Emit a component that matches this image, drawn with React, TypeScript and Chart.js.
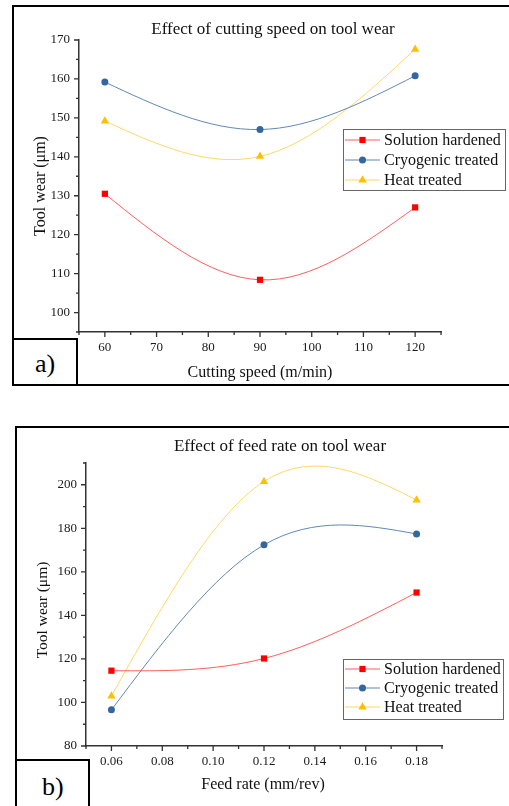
import React, { useEffect, useRef } from "react";
import { Chart, registerables } from "chart.js";

Chart.register(...registerables);

const FONT = '"Liberation Serif", "Times New Roman", serif';

// ---------- Panel a: cutting speed ----------
const speedCategories = [60, 90, 120];
const speedSolution = [130.5, 108.4, 127.0];
const speedCryogenic = [159.2, 147.0, 160.8];
const speedHeat = [149.2, 140.1, 167.6];
const speedXTicks = [60, 70, 80, 90, 100, 110, 120];
const speedYTicks = [100, 110, 120, 130, 140, 150, 160, 170];

// ---------- Panel b: feed rate ----------
const feedCategories = [0.06, 0.12, 0.18];
const feedSolution = [114.6, 120.2, 150.5];
const feedCryogenic = [96.6, 172.4, 177.4];
const feedHeat = [102.9, 201.5, 193.0];
const feedXTicks = [0.06, 0.08, 0.1, 0.12, 0.14, 0.16, 0.18];
const feedYTicks = [80, 100, 120, 140, 160, 180, 200];

const seriesNames = ["Solution hardened", "Cryogenic treated", "Heat treated"];

const seriesStyles = [
  { line: "rgba(255,40,40,0.75)", point: "#ff0000", pointStyle: "rect", radius: 4.4 },
  { line: "#5f88b8", point: "#3467a1", pointStyle: "circle", radius: 3.5 },
  { line: "#ffd865", point: "#ffc000", pointStyle: "triangle", radius: 4.8 },
];

type Decor = {
  title: string;
  titleX: number;
  titleY: number;
  titleSize: number;
  xTitle: string;
  xTitleX: number;
  xTitleY: number;
  xTitleSize: number;
  yTitle: string;
  yTitleX: number;
  yTitleY: number;
  yTitleSize: number;
  xMinorStep: number;
  yMinorStep: number;
  legend: { x: number; y: number; w: number; h: number; firstRow: number; rowGap: number; size: number };
};

// Natural cubic spline (as used by the original plotting program) expressed
// as Bezier control points on Chart.js's own point elements.
function applyNaturalSpline(points: any[]) {
  const n = points.length;
  if (n < 3) return;
  const X = points.map((p) => p.x);
  const Y = points.map((p) => p.y);
  const h: number[] = [];
  for (let i = 0; i < n - 1; i++) h.push(X[i + 1] - X[i]);
  const M = new Array(n).fill(0);
  const a: number[] = [], b: number[] = [], c: number[] = [], d: number[] = [];
  for (let i = 1; i < n - 1; i++) {
    a.push(h[i - 1]);
    b.push(2 * (h[i - 1] + h[i]));
    c.push(h[i]);
    d.push(6 * ((Y[i + 1] - Y[i]) / h[i] - (Y[i] - Y[i - 1]) / h[i - 1]));
  }
  const m = b.length;
  for (let i = 1; i < m; i++) {
    const w = a[i] / b[i - 1];
    b[i] -= w * c[i - 1];
    d[i] -= w * d[i - 1];
  }
  const sol = new Array(m).fill(0);
  for (let i = m - 1; i >= 0; i--) sol[i] = (d[i] - (i < m - 1 ? c[i] * sol[i + 1] : 0)) / b[i];
  for (let i = 0; i < m; i++) M[i + 1] = sol[i];
  points[0].cp1x = X[0];
  points[0].cp1y = Y[0];
  points[n - 1].cp2x = X[n - 1];
  points[n - 1].cp2y = Y[n - 1];
  for (let i = 0; i < n - 1; i++) {
    const s = (Y[i + 1] - Y[i]) / h[i];
    const d0 = s - (h[i] * (2 * M[i] + M[i + 1])) / 6;
    const d1 = s + (h[i] * (M[i] + 2 * M[i + 1])) / 6;
    points[i].cp2x = X[i] + h[i] / 3;
    points[i].cp2y = Y[i] + (d0 * h[i]) / 3;
    points[i + 1].cp1x = X[i + 1] - h[i] / 3;
    points[i + 1].cp1y = Y[i + 1] - (d1 * h[i]) / 3;
  }
}

const splinePlugin = {
  id: "naturalSpline",
  beforeDatasetDraw(chart: any, args: any) {
    const meta = args.meta;
    const line = meta.dataset;
    if (!line) return;
    if (typeof line.updateControlPoints === "function") line.updateControlPoints(chart.chartArea, "x");
    applyNaturalSpline(meta.data);
    line._path = undefined;
  },
};

function drawMarker(ctx: CanvasRenderingContext2D, style: string, x: number, y: number, r: number, color: string) {
  ctx.save();
  ctx.fillStyle = color;
  ctx.beginPath();
  if (style === "rect") {
    const s = r / Math.SQRT2;
    ctx.rect(x - s, y - s, 2 * s, 2 * s);
  } else if (style === "circle") {
    ctx.arc(x, y, r, 0, Math.PI * 2);
  } else {
    const a = (Math.PI * 2) / 3;
    ctx.moveTo(x, y - r);
    ctx.lineTo(x + Math.sin(a) * r, y - Math.cos(a) * r);
    ctx.lineTo(x - Math.sin(a) * r, y - Math.cos(a) * r);
    ctx.closePath();
  }
  ctx.fill();
  ctx.restore();
}

const decorPlugin = {
  id: "decor",
  afterDraw(chart: any, _args: any, opts: Decor) {
    const ctx: CanvasRenderingContext2D = chart.ctx;
    const xs = chart.scales.x;
    const ys = chart.scales.y;
    ctx.save();
    // tick marks (major + minor)
    ctx.strokeStyle = "#333";
    ctx.lineWidth = 1.3;
    ctx.beginPath();
    const xMajor = xs.ticks.map((t: any) => t.value);
    const yMajor = ys.ticks.map((t: any) => t.value);
    const isMajor = (arr: number[], v: number) => arr.some((m) => Math.abs(m - v) < 1e-9);
    for (let i = 0; ; i++) {
      const v = xs.min + i * opts.xMinorStep;
      if (v > xs.max + 1e-9) break;
      const p = xs.getPixelForValue(v);
      const len = isMajor(xMajor, v) ? 5 : 3;
      ctx.moveTo(p, xs.top);
      ctx.lineTo(p, xs.top + len);
    }
    for (let i = 0; ; i++) {
      const v = ys.min + i * opts.yMinorStep;
      if (v > ys.max + 1e-9) break;
      const p = ys.getPixelForValue(v);
      const len = isMajor(yMajor, v) ? 5 : 3;
      ctx.moveTo(ys.right, p);
      ctx.lineTo(ys.right - len, p);
    }
    ctx.stroke();

    // chart title
    ctx.fillStyle = "#111";
    ctx.textAlign = "center";
    ctx.textBaseline = "alphabetic";
    ctx.font = `${opts.titleSize}px ${FONT}`;
    ctx.fillText(opts.title, opts.titleX, opts.titleY);
    // x title
    ctx.font = `${opts.xTitleSize}px ${FONT}`;
    ctx.fillText(opts.xTitle, opts.xTitleX, opts.xTitleY);
    // y title
    ctx.save();
    ctx.translate(opts.yTitleX, opts.yTitleY);
    ctx.rotate(-Math.PI / 2);
    ctx.font = `${opts.yTitleSize}px ${FONT}`;
    ctx.fillText(opts.yTitle, 0, 0);
    ctx.restore();

    // legend
    const lg = opts.legend;
    ctx.fillStyle = "#fff";
    ctx.fillRect(lg.x, lg.y, lg.w, lg.h);
    ctx.strokeStyle = "#666";
    ctx.lineWidth = 1;
    ctx.strokeRect(lg.x + 0.5, lg.y + 0.5, lg.w, lg.h);
    chart.data.datasets.forEach((ds: any, i: number) => {
      const y = lg.y + lg.firstRow + i * lg.rowGap;
      ctx.strokeStyle = ds.borderColor;
      ctx.lineWidth = 1.2;
      ctx.beginPath();
      ctx.moveTo(lg.x + 2, y);
      ctx.lineTo(lg.x + 37, y);
      ctx.stroke();
      drawMarker(ctx, ds.pointStyle, lg.x + 19.5, y, ds.pointRadius, ds.pointBackgroundColor);
      ctx.fillStyle = "#111";
      ctx.textAlign = "left";
      ctx.textBaseline = "middle";
      ctx.font = `${lg.size}px ${FONT}`;
      ctx.fillText(ds.label, lg.x + 41, y + 1);
    });
    ctx.restore();
  },
};

function makeDatasets(categories: number[], series: number[][]) {
  return series.map((vals, i) => ({
    label: seriesNames[i],
    data: categories.map((c, j) => ({ x: c, y: vals[j] })),
    borderColor: seriesStyles[i].line,
    borderWidth: 1,
    pointStyle: seriesStyles[i].pointStyle,
    pointRadius: seriesStyles[i].radius,
    pointBackgroundColor: seriesStyles[i].point,
    pointBorderColor: seriesStyles[i].point,
    pointBorderWidth: 0,
    tension: 0.4,
    fill: false,
  }));
}

type PanelProps = {
  width: number;
  height: number;
  categories: number[];
  series: number[][];
  xMin: number;
  xMax: number;
  yMin: number;
  yMax: number;
  xTicks: number[];
  yTicks: number[];
  xFormat: (v: number) => string;
  padding: { left: number; top: number; right: number; bottom: number };
  decor: Decor;
};

function ChartPanel(p: PanelProps) {
  const ref = useRef<HTMLCanvasElement>(null);
  useEffect(() => {
    if (!ref.current) return;
    const tickFont = { family: FONT, size: 13 };
    const chart = new Chart(ref.current, {
      type: "line",
      data: { datasets: makeDatasets(p.categories, p.series) as any },
      options: {
        animation: false,
        responsive: false,
        maintainAspectRatio: false,
        events: [],
        layout: { padding: p.padding },
        plugins: {
          legend: { display: false },
          tooltip: { enabled: false },
          title: { display: false },
          decor: p.decor,
        } as any,
        scales: {
          x: {
            type: "linear",
            min: p.xMin,
            max: p.xMax,
            afterBuildTicks: (s: any) => {
              s.ticks = p.xTicks.map((v) => ({ value: v }));
            },
            afterFit: (s: any) => {
              s.height = 30;
            },
            grid: { display: false, drawTicks: false },
            border: { display: true, color: "#333", width: 1.5 },
            ticks: {
              padding: 8,
              color: "#1a1a1a",
              font: tickFont,
              autoSkip: false,
              maxRotation: 0,
              callback: (v: any) => p.xFormat(Number(v)),
            },
          },
          y: {
            type: "linear",
            min: p.yMin,
            max: p.yMax,
            afterBuildTicks: (s: any) => {
              s.ticks = p.yTicks.map((v) => ({ value: v }));
            },
            afterFit: (s: any) => {
              s.width = 40;
            },
            grid: { display: false, drawTicks: false },
            border: { display: true, color: "#333", width: 1.5 },
            ticks: {
              padding: 9,
              color: "#1a1a1a",
              font: tickFont,
              autoSkip: false,
              callback: (v: any) => String(v),
            },
          },
        },
      } as any,
      plugins: [splinePlugin as any, decorPlugin as any],
    });
    return () => chart.destroy();
  }, []);
  return <canvas ref={ref} width={p.width} height={p.height} style={{ display: "block", width: p.width, height: p.height }} />;
}

const boxStyle: React.CSSProperties = {
  position: "absolute",
  boxSizing: "border-box",
  border: "2px solid #000",
  pointerEvents: "none",
};

export default function App() {
  return (
    <div style={{ position: "absolute", left: 0, top: 0, width: 509, height: 806, overflow: "hidden", background: "#fff" }}>
      <div style={{ position: "absolute", left: 0, top: 0 }}>
        <ChartPanel
          width={509}
          height={390}
          categories={speedCategories}
          series={[speedSolution, speedCryogenic, speedHeat]}
          xMin={55}
          xMax={125}
          yMin={95}
          yMax={170}
          xTicks={speedXTicks}
          yTicks={speedYTicks}
          xFormat={(v) => String(v)}
          padding={{ left: 39, top: 40, right: 68, bottom: 28 }}
          decor={{
            title: "Effect of cutting speed on tool wear",
            titleX: 273,
            titleY: 34,
            titleSize: 17,
            xTitle: "Cutting speed (m/min)",
            xTitleX: 260,
            xTitleY: 377,
            xTitleSize: 16,
            yTitle: "Tool wear (\u03bcm)",
            yTitleX: 45,
            yTitleY: 186,
            yTitleSize: 16,
            xMinorStep: 5,
            yMinorStep: 5,
            legend: { x: 343, y: 129, w: 162, h: 61, firstRow: 11, rowGap: 20, size: 16 },
          }}
        />
      </div>
      <div style={{ position: "absolute", left: 0, top: 420 }}>
        <ChartPanel
          width={509}
          height={386}
          categories={feedCategories}
          series={[feedSolution, feedCryogenic, feedHeat]}
          xMin={0.05}
          xMax={0.19}
          yMin={80}
          yMax={210}
          xTicks={feedXTicks}
          yTicks={feedYTicks}
          xFormat={(v) => v.toFixed(2)}
          padding={{ left: 46, top: 43, right: 67, bottom: 30 }}
          decor={{
            title: "Effect of feed rate on tool wear",
            titleX: 280,
            titleY: 31,
            titleSize: 17,
            xTitle: "Feed rate (mm/rev)",
            xTitleX: 263,
            xTitleY: 369,
            xTitleSize: 16,
            yTitle: "Tool wear (\u03bcm)",
            yTitleX: 47,
            yTitleY: 190,
            yTitleSize: 15.5,
            xMinorStep: 0.01,
            yMinorStep: 10,
            legend: { x: 343, y: 239, w: 160, h: 60, firstRow: 10, rowGap: 19, size: 16 },
          }}
        />
      </div>
      {/* panel a frame */}
      <div style={{ ...boxStyle, left: 12, top: 5, width: 600, height: 381 }} />
      <div style={{ ...boxStyle, left: 12, top: 338, width: 66, height: 48, background: "#fff" }} />
      <span style={{ position: "absolute", left: 35, top: 351, font: `26px ${FONT}`, lineHeight: "26px", color: "#000" }}>a)</span>
      {/* panel b frame */}
      <div style={{ ...boxStyle, left: 15, top: 426, width: 600, height: 420 }} />
      <div style={{ ...boxStyle, left: 15, top: 759, width: 75, height: 100, background: "#fff" }} />
      <span style={{ position: "absolute", left: 42, top: 774, font: `26px ${FONT}`, lineHeight: "26px", color: "#000" }}>b)</span>
    </div>
  );
}
